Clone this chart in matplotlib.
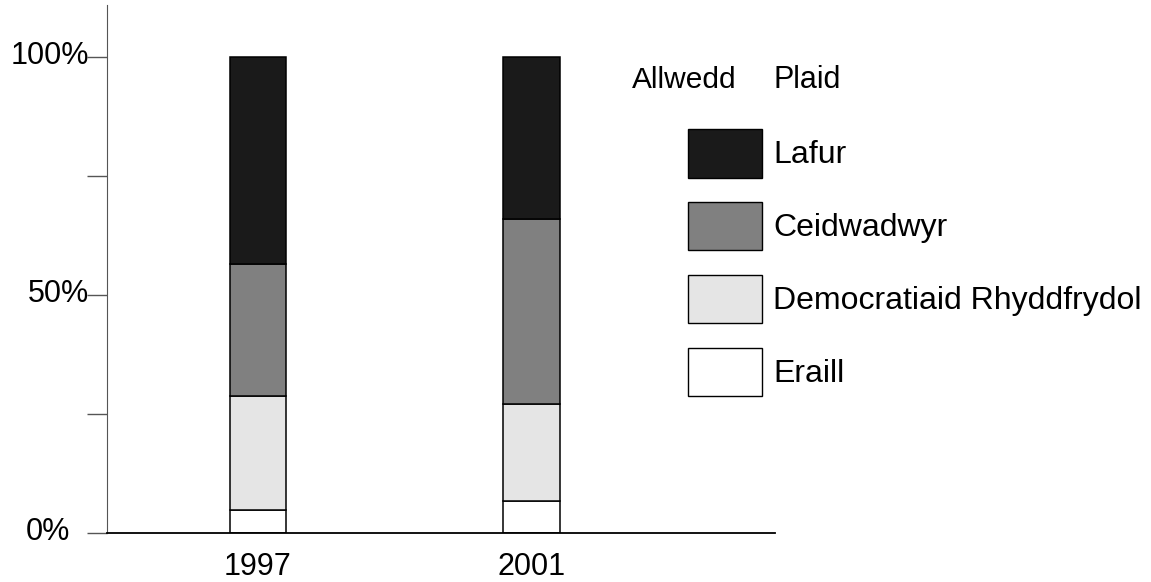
import numpy as np
import matplotlib.pyplot as plt
import matplotlib.transforms as mtransforms
from matplotlib.patches import Patch

plt.rcParams['font.family'] = ['Liberation Sans', 'DejaVu Sans']

# data (percent of vote)
years = ['1997', '2001']
parties = ['Lafur', 'Ceidwadwyr', 'Democratiaid Rhyddfrydol', 'Eraill']
eraill = [4.8, 6.7]
demrhydd = [23.9, 20.4]
ceidwadwyr = [27.7, 38.9]
lafur = [43.6, 34.0]
colours = ['#1a1a1a', '#808080', '#e5e5e5', '#ffffff']

W, H = 1151, 582
fig = plt.figure(figsize=(W / 100, H / 100), dpi=100)
ax = fig.add_axes([107 / W, 1 - 533 / H, (775 - 107) / W, (533 - 5) / H])

x = np.arange(len(years))
bw = 0.208
bottom = np.zeros(len(years))
# stack from the bottom up
for vals, col in zip([eraill, demrhydd, ceidwadwyr, lafur], colours[::-1]):
    ax.bar(x, vals, bw, bottom=bottom, color=col, edgecolor='black', linewidth=1.1)
    bottom += np.array(vals)

ax.set_xlim(-0.552, 1.89)
ax.set_ylim(0, 110.9)
ax.spines['top'].set_visible(False)
ax.spines['right'].set_visible(False)
ax.spines['left'].set_color('#555555')
ax.spines['bottom'].set_linewidth(1.3)

ax.set_yticks([0, 25, 50, 75, 100])
ax.set_yticklabels(['0%', '', '50%', '', '100%'], fontsize=22)
ax.tick_params(axis='y', length=14.4, width=1, color='#555555', pad=-1.5)
ax.set_xticks(x)
ax.set_xticklabels(years, fontsize=22)
ax.tick_params(axis='x', length=0, pad=14)
# labels sit slightly above their ticks, 0% further left
for i, lab in enumerate(ax.get_yticklabels()):
    dx = -19 if i == 0 else 0
    lab.set_transform(lab.get_transform() +
                      mtransforms.ScaledTranslation(dx / 100, 4 / 100, fig.dpi_scale_trans))

handles = [Patch(facecolor=c, edgecolor='black', linewidth=1) for c in colours]
fig.legend(handles, parties, loc='upper left',
           bbox_to_anchor=(688 / W, 1 - 129 / H), bbox_transform=fig.transFigure,
           frameon=False, fontsize=23, borderpad=0, borderaxespad=0,
           handlelength=2.31, handleheight=1.96, labelspacing=0.765, handletextpad=0.35)

fig.text(737 / W, 1 - 80 / H, 'Allwedd', fontsize=21.5, va='center', ha='right')
fig.text(774 / W, 1 - 80 / H, 'Plaid', fontsize=22, va='center', ha='left')

fig.savefig('out.png', dpi=100)
